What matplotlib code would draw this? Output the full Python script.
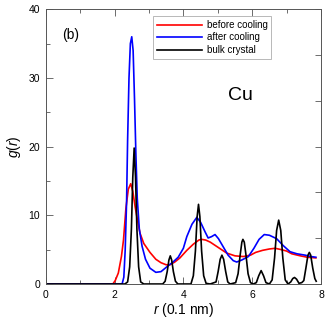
"""
Radial distribution function g(r) of Cu: liquid before cooling,
after cooling, and the bulk crystal reference.
"""

import matplotlib
matplotlib.use('Agg')
import matplotlib.pyplot as plt
from matplotlib.ticker import MultipleLocator

matplotlib.rcParams['font.family'] = ['Liberation Sans', 'DejaVu Sans']
matplotlib.rcParams['mathtext.fontset'] = 'custom'
matplotlib.rcParams['mathtext.it'] = 'Liberation Sans:italic'
matplotlib.rcParams['mathtext.rm'] = 'Liberation Sans'

# before cooling (red)
r_before = [0.0, 1.95, 2.02, 2.11, 2.20, 2.26, 2.33, 2.40, 2.47, 2.53, 2.60, 2.67,
            2.74, 2.85, 3.03, 3.20, 3.35, 3.50, 3.61, 3.75, 3.90, 4.10, 4.29, 4.45,
            4.53, 4.65, 4.78, 4.90, 5.05, 5.26, 5.50, 5.74, 5.95, 6.10, 6.30, 6.50,
            6.67, 6.85, 7.00, 7.15, 7.40, 7.60, 7.85]
g_before = [0.0, 0.0, 0.5, 1.6, 4.0, 6.4, 11.0, 13.8, 14.6, 13.5, 11.2, 9.2,
            7.4, 5.9, 4.6, 3.6, 3.1, 2.8, 2.8, 3.2, 3.8, 4.9, 5.8, 6.4,
            6.5, 6.4, 6.1, 5.7, 5.2, 4.5, 4.1, 4.0, 4.2, 4.6, 4.9, 5.1,
            5.2, 5.0, 4.8, 4.4, 4.1, 3.9, 3.8]

# after cooling (blue)
r_after = [0.0, 2.22, 2.27, 2.31, 2.35, 2.38, 2.42, 2.46, 2.50, 2.54, 2.58, 2.62,
           2.66, 2.72, 2.80, 2.90, 3.03, 3.20, 3.35, 3.52, 3.70, 3.85, 4.00, 4.10,
           4.25, 4.39, 4.50, 4.63, 4.72, 4.82, 4.92, 5.02, 5.16, 5.30, 5.45, 5.55,
           5.70, 5.89, 6.05, 6.20, 6.35, 6.50, 6.71, 6.90, 7.10, 7.30, 7.54, 7.70,
           7.85]
g_after = [0.0, 0.0, 1.0, 5.0, 12.0, 21.0, 30.0, 35.0, 36.0, 34.0, 27.0, 19.0,
           12.5, 8.0, 5.5, 3.6, 2.3, 1.7, 1.8, 2.5, 3.2, 3.9, 5.2, 6.9,
           8.7, 9.7, 9.0, 7.6, 6.7, 6.9, 7.2, 6.6, 5.4, 4.2, 3.4, 3.2,
           3.5, 4.0, 5.2, 6.5, 7.2, 7.1, 6.6, 5.6, 4.7, 4.4, 4.2, 4.0,
           3.9]

# bulk crystal (black)
r_bulk = [0.0, 2.30, 2.38, 2.44, 2.49, 2.53, 2.57, 2.61, 2.65, 2.70, 2.76, 2.85,
          3.40, 3.47, 3.53, 3.58, 3.62, 3.66, 3.71, 3.77, 3.84,
          4.22, 4.29, 4.35, 4.40, 4.44, 4.48, 4.53, 4.59, 4.66, 4.78,
          4.95, 5.01, 5.07, 5.12, 5.17, 5.23, 5.29, 5.36,
          5.52, 5.59, 5.65, 5.70, 5.73, 5.77, 5.82, 5.88, 5.95, 6.03,
          6.12, 6.19, 6.26, 6.33, 6.40, 6.50,
          6.58, 6.65, 6.71, 6.77, 6.83, 6.89, 6.96, 7.04,
          7.12, 7.18, 7.23, 7.29, 7.36, 7.44,
          7.50, 7.56, 7.62, 7.66, 7.70, 7.76, 7.82, 7.86]
g_bulk = [0.0, 0.0, 0.3, 2.5, 8.0, 15.5, 19.8, 15.5, 8.0, 2.5, 0.3, 0.0,
          0.0, 0.4, 1.8, 3.5, 4.1, 3.5, 1.8, 0.4, 0.0,
          0.0, 1.2, 4.8, 9.8, 11.6, 9.8, 4.8, 1.2, 0.1, 0.0,
          0.3, 1.8, 3.6, 4.2, 3.6, 1.8, 0.3, 0.0,
          0.2, 1.5, 4.2, 6.1, 6.5, 6.1, 4.2, 1.5, 0.2, 0.0,
          0.2, 1.2, 1.95, 1.2, 0.2, 0.0,
          0.6, 3.8, 7.8, 9.3, 7.8, 3.8, 0.6, 0.0,
          0.3, 0.8, 0.95, 0.7, 0.1, 0.2,
          0.5, 2.3, 4.2, 4.6, 4.2, 2.3, 0.8, 0.4]

SPINE = '#555555'

fig = plt.figure(figsize=(3.27, 3.18), dpi=100)
ax = fig.add_axes([0.1398, 0.1069, 0.8419, 0.8639])

ax.plot(r_before, g_before, '-', color='#ff0000', linewidth=1.2, label='before cooling')
ax.plot(r_after, g_after, '-', color='#0000ff', linewidth=1.2, label='after cooling')
ax.plot(r_bulk, g_bulk, '-', color='black', linewidth=1.2, label='bulk crystal')

ax.set_xlim(0, 8)
ax.set_ylim(0, 40)
ax.xaxis.set_major_locator(MultipleLocator(2))
ax.xaxis.set_minor_locator(MultipleLocator(1))
ax.yaxis.set_major_locator(MultipleLocator(10))
ax.yaxis.set_minor_locator(MultipleLocator(5))

ax.tick_params(axis='both', which='major', direction='in', length=5, width=0.6,
               labelsize=7.5, pad=4, color=SPINE, top=True)
ax.tick_params(axis='both', which='minor', direction='in', length=3, width=0.6,
               color=SPINE, top=True)
ax.tick_params(axis='y', which='both', right=False)

for spine in ax.spines.values():
    spine.set_color(SPINE)
    spine.set_linewidth(0.7)

# right side has its own unlabelled scale with six divisions
ax2 = ax.twinx()
ax2.set_ylim(0, 6)
ax2.yaxis.set_major_locator(MultipleLocator(1))
ax2.tick_params(axis='y', direction='in', length=4, width=0.6, color=SPINE,
                labelright=False)
for spine in ax2.spines.values():
    spine.set_visible(False)

ax.set_xlabel(r'$\it{r}$ (0.1 nm)', fontsize=10, labelpad=1)
ax.set_ylabel(r'$\it{g}$($\it{r}$)', fontsize=10, labelpad=4)

ax.text(0.73, 36.2, '(b)', fontsize=10, ha='center', va='center')
ax.text(5.65, 27.4, 'Cu', fontsize=14, ha='center', va='center')

leg = ax.legend(loc='upper left', bbox_to_anchor=(0.39, 0.975), fontsize=7,
                frameon=True, fancybox=False, handlelength=4.6, handletextpad=0.5,
                borderpad=0.4, labelspacing=0.25, borderaxespad=0)
leg.get_frame().set_edgecolor('#999999')
leg.get_frame().set_linewidth(0.6)

fig.savefig('out.png', dpi=100, facecolor='white')
